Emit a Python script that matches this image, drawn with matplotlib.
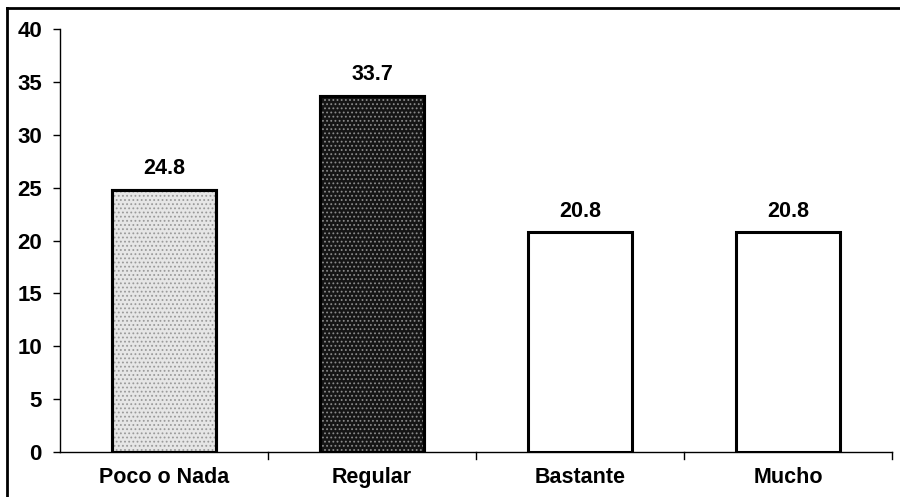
import matplotlib
matplotlib.use("Agg")
import matplotlib.pyplot as plt
from matplotlib.lines import Line2D

categories = ["Poco o Nada", "Regular", "Bastante", "Mucho"]
values = [24.8, 33.7, 20.8, 20.8]
value_labels = ["24.8", "33.7", "20.8", "20.8"]
yticks = [0, 5, 10, 15, 20, 25, 30, 35, 40]

plt.rcParams['font.family'] = ['Liberation Sans', 'DejaVu Sans']
plt.rcParams['hatch.linewidth'] = 0.8

fig = plt.figure(figsize=(9, 4.97), dpi=100)
ax = fig.add_axes([0.0667, 0.0905, 0.9245, 0.851])

faces = ['#e6e6e6', '#151515', 'white', 'white']
hatchcols = ['#9a9a9a', '#8a8a8a', 'white', 'white']
hatches = ['....', '....', None, None]
x = list(range(len(categories)))
for i in x:
    ax.bar(i, values[i], width=0.5, facecolor=faces[i], edgecolor='black',
           linewidth=2.2, zorder=3)
    if hatches[i]:
        ax.bar(i, values[i], width=0.5, facecolor='none', edgecolor=hatchcols[i],
               hatch=hatches[i], linewidth=0, zorder=3)
        ax.bar(i, values[i], width=0.5, facecolor='none', edgecolor='black',
               linewidth=2.2, zorder=4)
    ax.text(i, values[i] + 1.0, value_labels[i], ha='center', va='bottom',
            fontsize=15.5, fontweight='bold')

ax.set_xlim(-0.5, 3.5)
ax.set_ylim(0, 40)
ax.set_yticks(yticks)
ax.set_yticklabels([str(t) for t in yticks], fontsize=16, fontweight='bold')
ax.set_xticks(x)
ax.set_xticklabels(categories, fontsize=15.5, fontweight='bold')
ax.tick_params(axis='x', length=0, pad=11)
ax.tick_params(axis='y', length=5, width=1, direction='out', pad=8)
for b in [0.5, 1.5, 2.5, 3.5]:
    ax.plot([b, b], [0, -0.7], color='black', lw=1, clip_on=False)
ax.spines['top'].set_visible(False)
ax.spines['right'].set_visible(False)
ax.spines['left'].set_linewidth(1)
ax.spines['bottom'].set_linewidth(1)

# figure frame (top and left visible)
fig.add_artist(Line2D([7/900, 7/900], [0, 1 - 8/497], transform=fig.transFigure,
                      color='black', lw=2))
fig.add_artist(Line2D([7/900, 1], [1 - 8/497, 1 - 8/497], transform=fig.transFigure,
                      color='black', lw=2))

fig.savefig("out.png", dpi=100)
